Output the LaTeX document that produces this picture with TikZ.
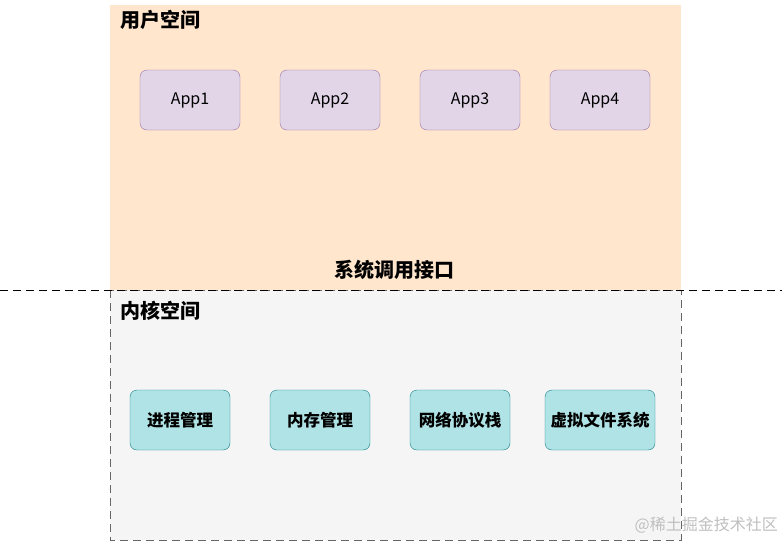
\documentclass[tikz,border=0pt]{standalone}
\usepackage{fontspec}
\setmainfont{Noto Sans CJK SC}
\definecolor{userfill}{HTML}{FFE6CC}
\definecolor{kernfill}{HTML}{F5F5F5}
\definecolor{kernline}{HTML}{666666}
\definecolor{appfill}{HTML}{E1D5E7}
\definecolor{appline}{HTML}{9673A6}
\definecolor{modfill}{HTML}{B0E3E6}
\definecolor{modline}{HTML}{0E8088}
\begin{document}
\begin{tikzpicture}[x=1pt,y=-1pt,
  app/.style={draw=appline,fill=appfill,rounded corners=7pt,minimum width=100pt,minimum height=60pt,font=\fontsize{16}{19}\selectfont},
  kmod/.style={draw=modline,fill=modfill,rounded corners=7pt,minimum width=100pt,minimum height=60pt,inner sep=2pt,font=\bfseries\fontsize{16.5}{20}\selectfont},
  title/.style={anchor=west,inner sep=0pt,font=\bfseries\fontsize{20}{23}\selectfont}]
  \useasboundingbox (0,0) rectangle (782,541);
  \fill[userfill] (110,5) rectangle (681,290);
  \draw[kernline,fill=kernfill,dash pattern=on 8pt off 5pt] (110,290) rectangle (681,540);
  \draw[dash pattern=on 8pt off 5pt] (0,290) -- (782,290);
  \node[title] (user) at (120,20) {用户空间};
  \node[title,anchor=center] (syscall) at (394,270) {系统调用接口};
  \node[title] (kernel) at (120,311) {内核空间};
  \node[app] (app1) at (190,100) {App1};
  \node[app] (app2) at (330,100) {App2};
  \node[app] (app3) at (470,100) {App3};
  \node[app] (app4) at (600,100) {App4};
  \node[kmod] (proc) at (180,420) {进程管理};
  \node[kmod] (mem) at (320,420) {内存管理};
  \node[kmod] (net) at (460,420) {网络协议栈};
  \node[kmod,minimum width=110pt] (vfs) at (600,420) {虚拟文件系统};
  \node[anchor=east,inner sep=0pt,text=black!25,font=\fontsize{16}{18}\selectfont] (mark) at (778,525) {@稀土掘金技术社区};
\end{tikzpicture}
\end{document}
